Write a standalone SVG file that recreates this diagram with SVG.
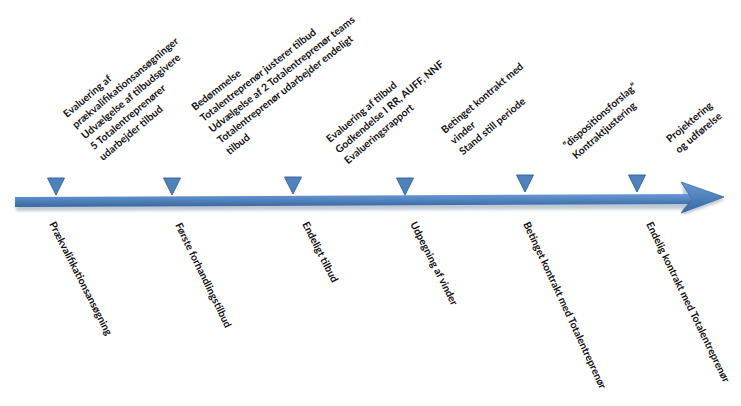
<svg xmlns="http://www.w3.org/2000/svg" width="741" height="406" viewBox="0 0 741 406">
<style>
.t{font-family:Lato,"Liberation Sans",sans-serif;font-weight:700;font-size:10.3px;fill:#111}
.tri{fill:#4f81bd;stroke:#3a679c;stroke-width:1}
</style>
<defs>
<linearGradient id="shaft" x1="0" y1="0" x2="0" y2="1">
<stop offset="0" stop-color="#6a9ad6"/>
<stop offset="0.5" stop-color="#4f81bd"/>
<stop offset="1" stop-color="#3a679c"/>
</linearGradient>
<filter id="sh" x="-5%" y="-50%" width="110%" height="200%">
<feGaussianBlur stdDeviation="1.5"/>
</filter>
</defs>
<rect width="741" height="406" fill="#fff"/>
<g id="connectors">
<g id="timeline-arrow">
<path d="M16,200 L690,197 L690,209 L16,211 Z M683,185 L725,200 L683,215 Z" fill="#8a9bb0" opacity="0.55" filter="url(#sh)"/>
<path d="M15,197 L691,194 L691,204 L15,207 Z" fill="url(#shaft)"/>
<path d="M681,182 L724,197 L681,213 L692,199 Z" fill="url(#shaft)" stroke="#3a679c" stroke-width="0.8"/>
</g>
</g>
<g id="marker1"><path class="tri" d="M47.5,178 L64.5,178 L56,195 Z"/></g>
<g id="marker2"><path class="tri" d="M163.5,178 L180.5,178 L172,195 Z"/></g>
<g id="marker3"><path class="tri" d="M284.5,177 L301.5,177 L293,194 Z"/></g>
<g id="marker4"><path class="tri" d="M396.5,178 L413.5,178 L405,195 Z"/></g>
<g id="marker5"><path class="tri" d="M516.5,175 L533.5,175 L525,192 Z"/></g>
<g id="marker6"><path class="tri" d="M628.5,175 L645.5,175 L637,192 Z"/></g>

<g id="top1"><text class="t" transform="translate(67,118) rotate(-40)"><tspan x="0" y="0">Evaluering af</tspan><tspan x="0" dy="14">prækvalifikationsansøgninger</tspan><tspan x="0" dy="14">Udvælgelse af tilbudsgivere</tspan><tspan x="0" dy="14">5 Totalentreprenører</tspan><tspan x="0" dy="14">udarbejder tilbud</tspan></text></g>
<g id="top2"><text class="t" transform="translate(195,111) rotate(-38)"><tspan x="0" y="0">Bedømmelse</tspan><tspan x="0" dy="14">Totalentreprenør justerer tilbud</tspan><tspan x="0" dy="14">Udvælgelse af 2 Totalentreprenør teams</tspan><tspan x="0" dy="14">Totalentreprenør udarbejder endeligt</tspan><tspan x="0" dy="14">tilbud</tspan></text></g>
<g id="top3"><text class="t" transform="translate(330,143) rotate(-40)"><tspan x="0" y="0">Evaluering af tilbud</tspan><tspan x="0" dy="14">Godkendelse I RR, AUFF, NNF</tspan><tspan x="0" dy="14">Evalueringsrapport</tspan></text></g>
<g id="top4"><text class="t" transform="translate(445,134) rotate(-40)"><tspan x="0" y="0">Betinget kontrakt med</tspan><tspan x="0" dy="14">vinder</tspan><tspan x="0" dy="14">Stand still periode</tspan></text></g>
<g id="top5"><text class="t" transform="translate(567,149) rotate(-41)"><tspan x="0" y="0">“dispositionsforslag”</tspan><tspan x="0" dy="14">Kontraktjustering</tspan></text></g>
<g id="top6"><text class="t" transform="translate(670,143) rotate(-40)"><tspan x="0" y="0">Projektering</tspan><tspan x="0" dy="14">og udførelse</tspan></text></g>

<g id="bottom1"><text class="t" transform="translate(49,224) rotate(63)">Prækvalifikationsansøgning</text></g>
<g id="bottom2"><text class="t" transform="translate(175,225) rotate(64)">Første forhandlingstilbud</text></g>
<g id="bottom3"><text class="t" transform="translate(302,224) rotate(63)">Endeligt tilbud</text></g>
<g id="bottom4"><text class="t" transform="translate(410,224) rotate(63)">Udpegning af vinder</text></g>
<g id="bottom5"><text class="t" transform="translate(523,224) rotate(65)">Betinget kontrakt med Totalentreprenør</text></g>
<g id="bottom6"><text class="t" transform="translate(646,224) rotate(64)">Endelig kontrakt med Totalentreprenør</text></g>
</svg>
